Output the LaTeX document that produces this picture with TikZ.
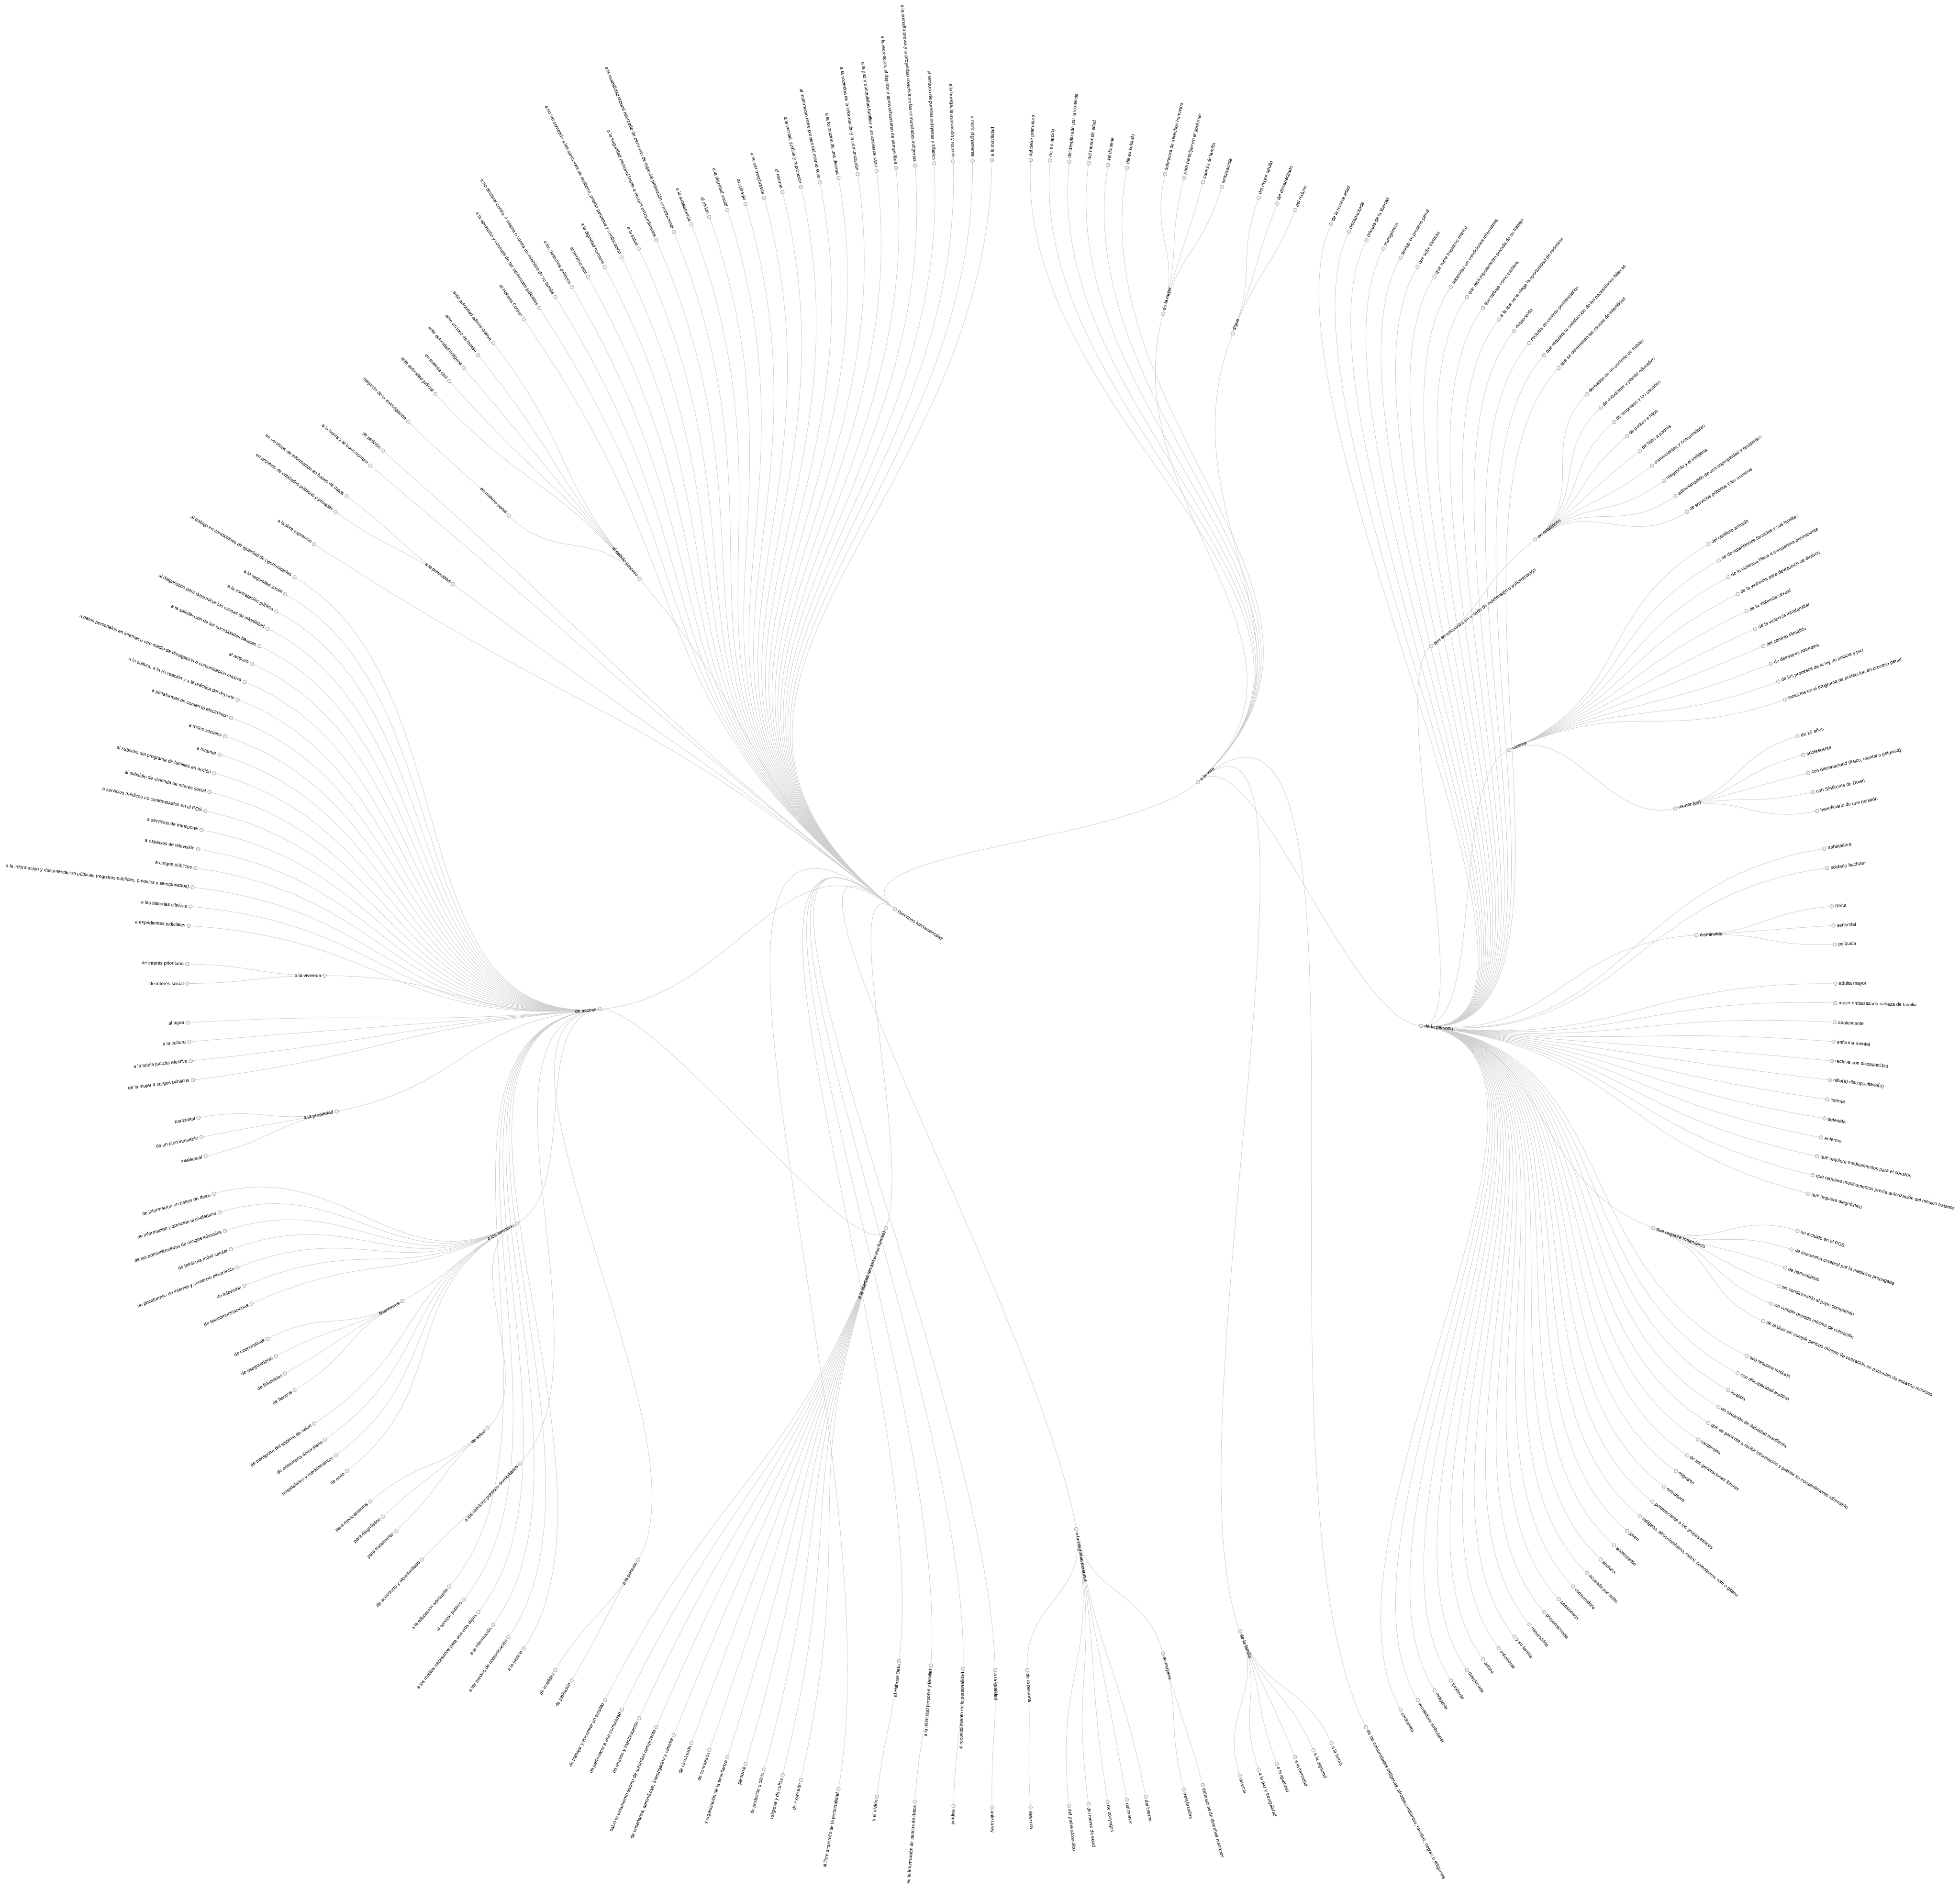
\documentclass[tikz,border=0pt]{standalone}
\usepackage{fontspec}
\setmainfont{Liberation Sans}
\definecolor{lk}{HTML}{CFCFCF}
\definecolor{cf}{HTML}{EEEEEE}
\definecolor{cs}{HTML}{9A9A9A}
\tikzset{
  dot/.style={circle,draw=cs,fill=cf,line width=0.3pt,minimum size=3pt,inner sep=0pt},
  lbl/.style={font=\fontsize{3.8}{4.5}\selectfont,inner sep=0.5pt},
  lnk/.style={draw=lk,line width=0.35pt},
}
\newcount\pass
% radial link (centre of the radial layout at 784,729)
\newcommand\lk[2]{%
  \pgfmathsetmacro\pX{\csname cx@#1\endcsname}%
  \pgfmathsetmacro\pY{\csname cy@#1\endcsname}%
  \pgfmathsetmacro\qX{\csname cx@#2\endcsname}%
  \pgfmathsetmacro\qY{\csname cy@#2\endcsname}%
  \pgfmathsetmacro\rP{100*veclen((\pX-784)/100,(\pY-729)/100)}%
  \pgfmathsetmacro\rC{100*veclen((\qX-784)/100,(\qY-729)/100)}%
  \pgfmathsetmacro\rM{(\rP+\rC)/2}%
  \pgfmathsetmacro\aX{784+(\pX-784)/\rP*\rM}%
  \pgfmathsetmacro\aY{729+(\pY-729)/\rP*\rM}%
  \pgfmathsetmacro\bX{784+(\qX-784)/\rC*\rM}%
  \pgfmathsetmacro\bY{729+(\qY-729)/\rC*\rM}%
  \draw[lnk] (#1) .. controls (\aX,\aY) and (\bX,\bY) .. (#2);
}
\newcommand\nd[5]{%
  \ifcase\pass
    \pgfmathsetmacro\nX{#2}%
    \pgfmathsetmacro\nY{1511-#3}%
    \expandafter\xdef\csname cx@#1\endcsname{\nX}%
    \expandafter\xdef\csname cy@#1\endcsname{\nY}%
    \coordinate (#1) at (\nX,\nY);
  \or
    \lk{#4}{#1}%
  \or
    \pgfmathsetmacro\nX{\csname cx@#1\endcsname}%
    \pgfmathsetmacro\nY{\csname cy@#1\endcsname}%
    \node[dot] (o-#1) at (#1) {};
    \pgfmathsetmacro\nA{atan2(\nY-729,\nX-784)}%
    \pgfmathsetmacro\lX{\nX+2.1*cos(\nA)}%
    \pgfmathsetmacro\lY{\nY+2.1*sin(\nA)}%
    \pgfmathtruncatemacro\nS{cos(\nA)>-0.001}%
    \ifnum\nS=1
      \node[lbl,anchor=west,rotate=\nA] at (\lX,\lY) {#5};
    \else
      \pgfmathsetmacro\nB{\nA-180}%
      \node[lbl,anchor=east,rotate=\nB] at (\lX,\lY) {#5};
    \fi
  \fi
}
\newcommand\xl[2]{\ifnum\pass=1 \lk{#1}{#2}\fi}
\newcommand\treedata{%
\nd{t1}{793.6}{128.0}{r}{a la movilidad}
\nd{t2}{778.1}{128.5}{r}{a morir dignamente}
\nd{t3}{762.6}{129.2}{r}{a la huelga, la asociación y reunión}
\nd{t4}{747.3}{130.7}{r}{al territorio de pueblos indígenas y tribales}
\nd{t5}{732.0}{132.3}{r}{a la consulta previa y la propiedad colectiva en las comunidades indígenas}
\nd{t6}{716.7}{134.3}{r}{a la recreación, al deporte y aprovechamiento de tiempo libre}
\nd{t7}{701.2}{136.6}{r}{a la paz y tranquilidad familiar a un ambiente sano}
\nd{t8}{686.1}{139.3}{r}{a la sociedad de la información y la comunicación}
\nd{t9}{670.8}{142.5}{r}{a la formación de una diversa}
\nd{t10}{655.8}{145.9}{r}{al matrimonio entre parejas del mismo sexo}
\nd{t11}{640.8}{149.6}{r}{a la verdad, justicia y reparación}
\nd{t12}{626.0}{153.6}{r}{al retorno}
\nd{t13}{611.2}{158.2}{r}{a no ser desplazada}
\nd{t14}{596.4}{163.1}{r}{al sufragio}
\nd{t15}{581.9}{168.1}{r}{a la dignidad social}
\nd{t16}{567.4}{173.6}{r}{al olvido}
\nd{t17}{553.1}{179.5}{r}{a la subsistencia}
\nd{t18}{539.0}{185.6}{r}{a la estabilidad laboral reforzada de personas de especial protección constitucional}
\nd{t19}{525.0}{192.1}{r}{a la seguridad personal frente a riesgos extraordinarios}
\nd{t20}{511.0}{198.9}{r}{a la salud}
\nd{t21}{497.2}{206.0}{r}{a no ser sometido a las sanciones de destierro, prisión perpetua y confiscación}
\nd{t22}{483.7}{213.5}{r}{a la dignidad humana}
\nd{t23}{470.4}{221.4}{r}{al mínimo vital}
\nd{t24}{457.3}{229.5}{r}{a los derechos políticos}
\nd{t25}{444.3}{237.7}{r}{a no declarar contra sí misma o contra un miembro de su familia}
\nd{t26}{431.5}{246.5}{r}{a la apelación y consulta de las sentencias judiciales}
\nd{d1}{419.0}{255.5}{r}{al Habeas Corpus}
\nd{dp}{511.6}{463.1}{r}{al debido proceso}
\nd{d2}{394.6}{274.3}{dp}{ante autoridad administrativa}
\nd{d3}{382.5}{284.1}{dp}{ante un juez de familia}
\nd{d4}{370.9}{294.3}{dp}{ante autoridad indígena}
\nd{d5}{359.4}{304.7}{dp}{en materia civil}
\nd{d6}{348.3}{315.4}{dp}{ante autoridad judicial}
\nd{d7}{406.9}{412.5}{dp}{en materia penal}
\nd{d8}{326.6}{337.4}{d7}{respecto de la investigación}
\nd{q1}{306.2}{360.5}{r}{de petición}
\nd{q2}{296.2}{372.5}{r}{a la honra y al buen nombre}
\nd{pv}{362.2}{467.3}{r}{a la privacidad}
\nd{pv1}{277.3}{397.0}{pv}{en servicios de información en bases de datos}
\nd{pv2}{268.5}{409.6}{pv}{en archivos de entidades públicas y privadas}
\nd{q3}{251.4}{435.4}{r}{a la libre expresión}
\nd{ac}{480.1}{807.5}{r}{de acceso}
\nd{a1}{235.6}{461.9}{ac}{al trabajo en condiciones de igualdad de oportunidades}
\nd{a2}{228.1}{475.4}{ac}{a la seguridad social}
\nd{a3}{221.0}{489.2}{ac}{a la contratación pública}
\nd{a4}{213.9}{503.0}{ac}{al diagnóstico para determinar las causas de infertilidad}
\nd{a5}{207.5}{517.0}{ac}{a la satisfacción de las necesidades básicas}
\nd{a6}{201.4}{531.1}{ac}{al amparo}
\nd{a7}{195.6}{545.6}{ac}{a datos personales en internet u otro medio de divulgación o comunicación masiva}
\nd{a8}{190.1}{559.9}{ac}{a la cultura, a la recreación y a la práctica del deporte}
\nd{a9}{184.9}{574.4}{ac}{a plataformas de comercio electrónico}
\nd{a10}{180.1}{589.1}{ac}{a redes sociales}
\nd{a11}{175.6}{603.8}{ac}{a Internet}
\nd{a12}{171.4}{618.8}{ac}{al subsidio del programa de familias en acción}
\nd{a13}{167.5}{633.7}{ac}{al subsidio de vivienda de interés social}
\nd{a14}{164.3}{648.9}{ac}{a servicios médicos no contemplados en el POS}
\nd{a15}{161.1}{664.0}{ac}{a servicios de transporte}
\nd{a16}{158.5}{679.5}{ac}{a espacios de televisión}
\nd{a17}{156.3}{694.5}{ac}{a cargos públicos}
\nd{a18}{154.0}{709.9}{ac}{a la información y documentación públicas (registros públicos, privados y semiprivados)}
\nd{a19}{152.4}{725.3}{ac}{a las historias clínicas}
\nd{a20}{151.1}{740.7}{ac}{a expedientes judiciales}
\nd{vi}{259.7}{780.6}{ac}{a la vivienda}
\nd{vi1}{149.8}{771.3}{vi}{de interés prioritario}
\nd{vi2}{149.8}{786.9}{vi}{de interés social}
\nd{a21}{150.1}{818.2}{ac}{al agua}
\nd{a22}{151.4}{833.5}{ac}{a la cultura}
\nd{a23}{152.7}{848.8}{ac}{a la tutela judicial efectiva}
\nd{a24}{154.3}{864.1}{ac}{de la mujer a cargos públicos}
\nd{pr}{269.4}{889.3}{ac}{a la propiedad}
\nd{pr1}{158.8}{894.3}{pr}{horizontal}
\nd{pr2}{161.1}{909.9}{pr}{de un bien inmueble}
\nd{pr3}{164.4}{925.0}{pr}{intelectual}
\nd{sv}{413.5}{978.9}{ac}{a los servicios}
\nd{s1}{171.4}{955.1}{sv}{de información en bases de datos}
\nd{s2}{175.7}{970.0}{sv}{de información y atención al ciudadano}
\nd{s3}{179.9}{984.9}{sv}{de las administradoras de riesgos laborales}
\nd{s4}{184.7}{999.5}{sv}{de telefonía móvil celular}
\nd{s5}{190.0}{1014.1}{sv}{de plataformas de internet y comercio electrónico}
\nd{s6}{195.5}{1028.7}{sv}{de televisión}
\nd{s7}{201.2}{1043.0}{sv}{de telecomunicaciones}
\nd{fi}{321.8}{1041.0}{sv}{financieros}
\nd{fi1}{214.0}{1071.1}{fi}{de cooperativas}
\nd{fi2}{220.8}{1085.1}{fi}{de aseguradoras}
\nd{fi3}{228.0}{1098.9}{fi}{de fiduciarias}
\nd{fi4}{235.6}{1112.3}{fi}{de bancos}
\nd{s8}{251.4}{1139.0}{sv}{de transporte del sistema de salud}
\nd{s9}{259.9}{1151.8}{sv}{de enfermería domiciliaria}
\nd{s10}{268.6}{1164.4}{sv}{hospitalarios y medicamentos}
\nd{s11}{277.4}{1177.0}{sv}{de aseo}
\nd{sa}{389.9}{1142.7}{sv}{de salud}
\nd{sa1}{296.2}{1201.4}{sa}{para medicamentos}
\nd{sa2}{306.2}{1213.4}{sa}{para diagnóstico}
\nd{sa3}{316.5}{1225.2}{sa}{para tratamiento}
\nd{sp}{416.0}{1171.0}{ac}{a los servicios públicos domiciliarios}
\nd{sp1}{337.6}{1247.8}{sp}{de acueducto y alcantarillado}
\nd{a25}{359.4}{1269.3}{ac}{a la educación adecuada}
\nd{a26}{370.9}{1279.9}{ac}{al servicio público}
\nd{a27}{382.7}{1289.9}{ac}{a los medios necesarios para una vida digna}
\nd{a28}{394.4}{1299.9}{ac}{a la información}
\nd{a29}{406.7}{1309.7}{ac}{a los medios de comunicación}
\nd{a30}{419.0}{1318.8}{ac}{a la justicia}
\nd{pe}{510.6}{1247.9}{ac}{a la pensión}
\nd{pe1}{444.2}{1336.2}{pe}{de invalidez}
\nd{pe2}{457.3}{1344.6}{pe}{de jubilación}
\nd{lb}{708.7}{982.7}{r}{a la libertad (en todas sus formas)}
\xl{ac}{lb}
\nd{l1}{483.9}{1360.3}{lb}{de trabajar y encontrar un empleo}
\nd{l2}{497.5}{1367.8}{lb}{de pertenecer a una comunidad}
\nd{l3}{511.2}{1374.8}{lb}{de reunión y manifestación}
\nd{l4}{525.0}{1381.7}{lb}{salvo mandamiento escrito de autoridad competente}
\nd{l5}{538.9}{1388.3}{lb}{de enseñanza, aprendizaje, investigación y cátedra}
\nd{l6}{553.1}{1394.4}{lb}{de circulación}
\nd{l7}{567.5}{1400.1}{lb}{de conciencia}
\nd{l8}{581.9}{1405.8}{lb}{y organización de la enseñanza}
\nd{l9}{596.5}{1411.2}{lb}{personal}
\nd{l10}{611.3}{1415.8}{lb}{de profesión u oficio}
\nd{l11}{626.1}{1420.3}{lb}{religiosa y de cultos}
\nd{l12}{640.7}{1424.2}{lb}{de expresión}
\nd{b1}{670.8}{1431.4}{r}{al libre desarrollo de la personalidad}
\nd{hd}{719.3}{1329.0}{r}{al Habeas Data}
\nd{hd1}{701.5}{1437.4}{hd}{y al olvido}
\nd{ip}{744.7}{1332.5}{r}{a la intimidad personal y familiar}
\nd{ip1}{731.8}{1441.5}{ip}{en la información de bancos de datos}
\nd{rp}{770.5}{1335.2}{r}{al reconocimiento de la personalidad}
\nd{rp1}{762.8}{1444.8}{rp}{jurídica}
\nd{ig}{796.1}{1336.1}{r}{a la igualdad}
\nd{ig1}{793.6}{1446.1}{ig}{ante la ley}
\nd{it}{861.0}{1223.5}{r}{a la integridad personal}
\nd{itp}{821.9}{1336.3}{it}{de la persona}
\nd{itp1}{824.4}{1446.1}{itp}{detenida}
\nd{it1}{855.3}{1444.8}{it}{del padre alcohólico}
\nd{it2}{870.8}{1443.5}{it}{del menor de edad}
\nd{it3}{886.1}{1441.7}{it}{de cónyuges}
\nd{it4}{901.4}{1439.9}{it}{del menor}
\nd{it5}{916.6}{1437.5}{it}{del interno}
\nd{im}{930.4}{1322.9}{it}{de mujeres}
\nd{im1}{947.0}{1431.8}{im}{desplazadas}
\nd{im2}{962.3}{1428.2}{im}{defensoras de derechos humanos}
\nd{v}{958.2}{625.8}{r}{a la vida}
\nd{v1}{824.6}{128.0}{v}{del bebé prematuro}
\nd{v2}{840.1}{128.4}{v}{del no nacido}
\nd{v3}{855.4}{129.4}{v}{del desplazado por la violencia}
\nd{v4}{870.9}{130.5}{v}{del menor de edad}
\nd{v5}{886.3}{132.1}{v}{del docente}
\nd{v6}{901.5}{134.2}{v}{del ex soldado}
\nd{mu}{930.5}{251.0}{v}{de la mujer}
\nd{mu1}{932.1}{139.2}{mu}{defensora de derechos humanos}
\nd{mu2}{947.2}{142.3}{mu}{para participar en el gobierno}
\nd{mu3}{962.4}{145.7}{mu}{cabeza de familia}
\nd{mu4}{977.4}{149.5}{mu}{embarazada}
\nd{dg}{986.2}{266.8}{v}{digna}
\nd{dg1}{1007.0}{158.1}{dg}{del mayor adulto}
\nd{dg2}{1021.8}{162.9}{dg}{del discapacitado}
\nd{dg3}{1036.2}{168.1}{dg}{del recluso}
\nd{fa}{992.1}{1305.2}{v}{de la familia}
\nd{fa1}{991.8}{1420.5}{fa}{diversa}
\nd{fa2}{1006.9}{1415.9}{fa}{a la paz y tranquilidad}
\nd{fa3}{1021.4}{1411.1}{fa}{a la igualdad}
\nd{fa4}{1035.9}{1405.8}{fa}{a la intimidad}
\nd{fa5}{1050.7}{1400.4}{fa}{a la dignidad}
\nd{fa6}{1065.2}{1394.7}{fa}{a la honra}
\nd{co}{1092.8}{1382.0}{v}{de las comunidades indígenas, afrodescendientes, raizales, negras o religiosas}
\nd{p}{1136.8}{820.8}{v}{de la persona}
\nd{p1}{1064.9}{179.3}{p}{de la tercera edad}
\nd{p2}{1079.1}{185.5}{p}{discapacitada}
\nd{p3}{1093.1}{192.2}{p}{privada de la libertad}
\nd{p4}{1106.8}{198.9}{p}{transgénero}
\nd{p5}{1120.5}{206.2}{p}{testigo en proceso penal}
\nd{p6}{1134.0}{213.5}{p}{que sufre torturas}
\nd{p7}{1147.5}{221.2}{p}{que sufre trastorno mental}
\nd{p8}{1160.6}{229.4}{p}{detenidas en condiciones inhumanas}
\nd{p9}{1173.6}{237.7}{p}{que está injustamente privada de su trabajo}
\nd{p10}{1186.4}{246.5}{p}{que trabaja como esclava}
\nd{p11}{1199.0}{255.6}{p}{a la que se le niega la oportunidad de redimirse}
\nd{p12}{1211.3}{264.8}{p}{desposeída}
\nd{p13}{1223.4}{274.5}{p}{recluida en centros penitenciarios}
\nd{p14}{1235.3}{284.1}{p}{que requiere la satisfacción de las necesidades básicas}
\nd{p15}{1246.9}{294.4}{p}{que se determinen las causas de infertilidad}
\nd{in}{1145}{517}{p}{que se encuentra en estado de indefensión o subordinación}
\nd{er}{1228.1}{431.6}{in}{en relaciones}
\nd{er1}{1269.5}{315.5}{er}{derivadas de un contrato de trabajo}
\nd{er2}{1280.6}{326.2}{er}{de estudiante y plantel educativo}
\nd{er3}{1291.3}{337.6}{er}{de empresas y los usuarios}
\nd{er4}{1301.6}{349.0}{er}{de padres e hijos}
\nd{er5}{1311.8}{360.6}{er}{de hijos a padres}
\nd{er6}{1321.6}{372.6}{er}{comerciantes y consumidores}
\nd{er7}{1331.1}{384.7}{er}{resguardo y el indígena}
\nd{er8}{1340.4}{397.0}{er}{administración de una copropiedad y residentes}
\nd{er9}{1349.6}{409.5}{er}{de servicios públicos y los usuarios}
\nd{vc}{1207.4}{600.0}{p}{víctima}
\nd{vc1}{1366.8}{435.3}{vc}{del conflicto armado}
\nd{vc2}{1374.9}{448.5}{vc}{de desapariciones forzadas y sus familias}
\nd{vc3}{1382.7}{461.8}{vc}{de la violencia física a compañera permanente}
\nd{vc4}{1390.1}{475.3}{vc}{de la violencia para devolución de dineros}
\nd{vc5}{1397.2}{489.0}{vc}{de la violencia sexual}
\nd{vc6}{1404.1}{503.0}{vc}{de la violencia intrafamiliar}
\nd{vc7}{1410.6}{516.9}{vc}{del cambio climático}
\nd{vc8}{1416.6}{531.1}{vc}{de desastres naturales}
\nd{vc9}{1422.6}{545.3}{vc}{de los procesos de la ley de justicia y paz}
\nd{vc10}{1428.1}{559.7}{vc}{incluidas en el programa de protección en proceso penal}
\nd{me}{1340.1}{646.8}{vc}{menor (es)}
\nd{me1}{1438.0}{589.1}{me}{de 16 años}
\nd{me2}{1442.4}{604.0}{me}{adolescente}
\nd{me3}{1446.5}{618.6}{me}{con discapacidad (física, mental o psíquica)}
\nd{me4}{1450.2}{633.7}{me}{con Síndrome de Down}
\nd{me5}{1453.7}{648.9}{me}{beneficiario de una pensión}
\nd{pp1}{1459.4}{679.1}{p}{trabajadora}
\nd{pp2}{1461.7}{694.5}{p}{soldado bachiller}
\nd{di}{1357.1}{748.2}{p}{disminuida}
\nd{di1}{1465.4}{725.2}{di}{física}
\nd{di2}{1466.8}{740.5}{di}{sensorial}
\nd{di3}{1467.9}{755.7}{di}{psíquica}
\nd{pp3}{1468.4}{787.0}{p}{adulta mayor}
\nd{pp4}{1468.2}{802.5}{p}{mujer embarazada cabeza de familia}
\nd{pp5}{1467.7}{817.9}{p}{adolescente}
\nd{pp6}{1466.8}{833.4}{p}{enferma mental}
\nd{pp7}{1465.4}{848.9}{p}{reclusa con discapacidad}
\nd{pp8}{1463.8}{864.1}{p}{niño(a) discapacitado(a)}
\nd{pp9}{1461.7}{879.6}{p}{interna}
\nd{pp10}{1459.4}{894.8}{p}{detenida}
\nd{pp11}{1456.9}{910.1}{p}{enferma}
\nd{pp12}{1453.7}{925.1}{p}{que requiere medicamentos para el corazón}
\nd{pp13}{1450.2}{940.2}{p}{que requiere medicamentos previa autorización del médico tratante}
\nd{pp14}{1446.5}{955.0}{p}{que requiere diagnóstico}
\nd{tr}{1322.6}{982.5}{p}{que requiere tratamiento}
\nd{tr1}{1438.0}{984.8}{tr}{no incluido en el POS}
\nd{tr2}{1433.2}{999.7}{tr}{de aneurisma cerebral por la medicina prepagada}
\nd{tr3}{1428.1}{1014.3}{tr}{de hemodiálisis}
\nd{tr4}{1422.8}{1028.7}{tr}{sin condicionarlo al pago compartido}
\nd{tr5}{1416.8}{1043.0}{tr}{sin cumplir periodo mínimo de cotización}
\nd{tr6}{1410.6}{1057.0}{tr}{de diálisis sin cumplir periodo mínimo de cotización en pacientes de escasos recursos}
\nd{pp15}{1397.3}{1084.8}{p}{que requiere traslado}
\nd{pp16}{1390.1}{1098.7}{p}{con discapacidad auditiva}
\nd{pp17}{1382.5}{1112.2}{p}{inválida}
\nd{pp18}{1374.8}{1125.5}{p}{en situación de debilidad manifiesta}
\nd{pp19}{1366.7}{1138.5}{p}{que es paciente a recibir información y prestar su consentimiento informado}
\nd{pp20}{1358.4}{1151.7}{p}{campesina}
\nd{pp21}{1349.8}{1164.4}{p}{de las generaciones futuras}
\nd{pp22}{1340.7}{1177.0}{p}{migrante}
\nd{pp23}{1331.3}{1189.4}{p}{extranjera}
\nd{pp24}{1321.9}{1201.5}{p}{perteneciente a los grupos étnicos}
\nd{pp25}{1311.9}{1213.2}{p}{indígena, afrocolombiana, raizal, palenquera, rom o gitana}
\nd{pp26}{1301.7}{1225.0}{p}{joven}
\nd{pp27}{1291.3}{1236.4}{p}{adolescente}
\nd{pp28}{1280.5}{1247.6}{p}{anciana}
\nd{pp29}{1269.5}{1258.7}{p}{acusada por delito}
\nd{pp30}{1258.5}{1269.3}{p}{consumidora}
\nd{pp31}{1247.0}{1279.5}{p}{pensionada}
\nd{pp32}{1235.4}{1289.8}{p}{prepensionada}
\nd{pp33}{1223.6}{1299.7}{p}{minusválida}
\nd{pp34}{1211.5}{1309.4}{p}{y su familia}
\nd{pp35}{1199.2}{1318.7}{p}{estudiante}
\nd{pp36}{1186.5}{1327.7}{p}{autora}
\nd{pp37}{1173.6}{1336.2}{p}{desplazada}
\nd{pp38}{1160.8}{1344.6}{p}{invidente}
\nd{pp39}{1147.6}{1352.5}{p}{indigente}
\nd{pp40}{1134.2}{1360.3}{p}{vendedora ambulante}
\nd{pp41}{1120.5}{1367.8}{p}{contratista}
}
\begin{document}
\begin{tikzpicture}[x=1pt,y=1pt]
\fill[white] (0,0) rectangle (1568,1511);
\useasboundingbox (0,0) rectangle (1568,1511);
\coordinate (r) at (716,783.5);
\expandafter\xdef\csname cx@r\endcsname{716}
\expandafter\xdef\csname cy@r\endcsname{783.5}
\pass=0 \treedata
\pass=1 \treedata
\pass=2 \treedata
\node[dot] (o-r) at (r) {};
\node[lbl,anchor=west,rotate=-32] at (717.8,782.4) {Derechos fundamentales};
\end{tikzpicture}
\end{document}
